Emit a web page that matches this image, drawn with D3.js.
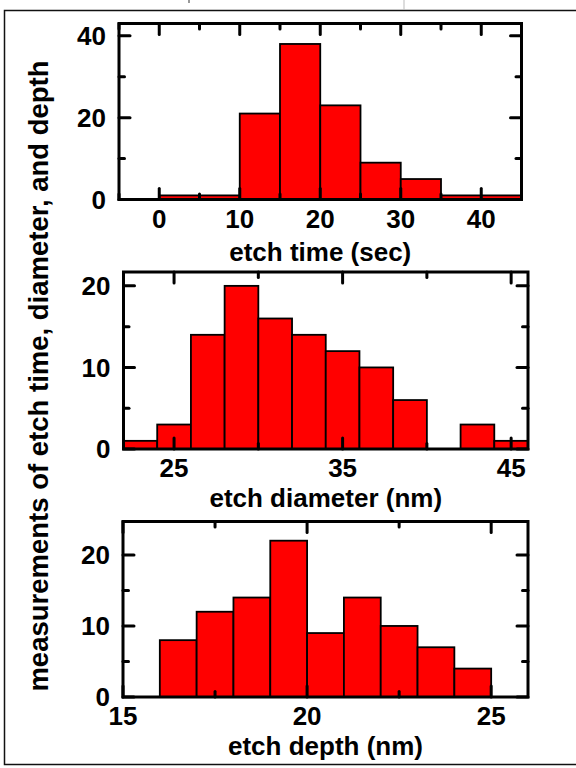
<!DOCTYPE html>
<html>
<head>
<meta charset="utf-8">
<script src="https://cdn.jsdelivr.net/npm/d3@7"></script>
<style>
  body { margin: 0; background: #fff; }
  text { font-family: "Liberation Sans", Arial, Helvetica, sans-serif; font-weight: bold; }
</style>
</head>
<body>
<div class="canvas"></div>
<script>
// histogram bins (left edges) and counts
const timeEdges = [0, 5, 10, 15, 20, 25, 30, 35, 40, 45];
const timeCounts = [1, 1, 21, 38, 23, 9, 5, 1, 1];
const timeTicks = [0, 10, 20, 30, 40];
const timeMinor = [-5, 5, 15, 25, 35, 45];
const timeYTicks = [0, 20, 40];
const timeYMinor = [10, 30];

const diamEdges = [22, 24, 26, 28, 30, 32, 34, 36, 38, 40, 42, 44, 46];
const diamCounts = [1, 3, 14, 20, 16, 14, 12, 10, 6, 0, 3, 1];
const diamTicks = [25, 35, 45];
const diamMinor = [30, 40];
const diamYTicks = [0, 10, 20];
const diamYMinor = [5, 15];

const depthEdges = [16, 17, 18, 19, 20, 21, 22, 23, 24, 25];
const depthCounts = [8, 12, 14, 22, 9, 14, 10, 7, 4];
const depthTicks = [15, 20, 25];
const depthMinor = [17.5, 22.5];
const depthYTicks = [0, 10, 20];
const depthYMinor = [5, 15];

const yTitle = 'measurements of etch time, diameter, and depth';

const dims = {width: 576, height: 768};
const font = 26;

const svg = d3.select('.canvas')
    .append('svg')
    .attr('width', dims.width)
    .attr('height', dims.height);

// outer frame
svg.append('rect')
    .attr('x', 4.5).attr('y', 10.5)
    .attr('width', 580).attr('height', 754)
    .attr('fill', 'none')
    .attr('stroke', '#111')
    .attr('stroke-width', 1.5);

// little bits of the cropped caption above the frame
svg.append('line').attr('x1', 189).attr('x2', 189).attr('y1', 0).attr('y2', 3)
    .attr('stroke', '#777').attr('stroke-width', 1.5);
svg.append('line').attr('x1', 404).attr('x2', 404).attr('y1', 0).attr('y2', 10)
    .attr('stroke', '#bbb').attr('stroke-width', 1);

const panels = [
    {edges: timeEdges, counts: timeCounts, xDom: [-5, 45], xRange: [119, 521.5],
     yDom: [0, 43], yRange: [199.5, 23.5], ticks: timeTicks, minor: timeMinor,
     yTicks: timeYTicks, yMinor: timeYMinor, title: 'etch time (sec)', titleDy: 61},
    {edges: diamEdges, counts: diamCounts, xDom: [22, 46], xRange: [123.5, 528],
     yDom: [0, 21.7], yRange: [449, 272], ticks: diamTicks, minor: diamMinor,
     yTicks: diamYTicks, yMinor: diamYMinor, title: 'etch diameter (nm)', titleDy: 58},
    {edges: depthEdges, counts: depthCounts, xDom: [15, 26], xRange: [123, 528],
     yDom: [0, 24.7], yRange: [697, 521.5], ticks: depthTicks, minor: depthMinor,
     yTicks: depthYTicks, yMinor: depthYMinor, title: 'etch depth (nm)', titleDy: 58}
];

const drawPanel = (p) => {
    const x = d3.scaleLinear().domain(p.xDom).range(p.xRange);
    const y = d3.scaleLinear().domain(p.yDom).range(p.yRange);
    const g = svg.append('g');

    const bins = p.counts.map((c, i) => ({x0: p.edges[i], x1: p.edges[i + 1], n: c}))
        .filter(d => d.n > 0);

    g.selectAll('rect.bar')
        .data(bins)
        .enter()
        .append('rect')
        .attr('class', 'bar')
        .attr('x', d => x(d.x0))
        .attr('width', d => x(d.x1) - x(d.x0))
        .attr('y', d => y(d.n))
        .attr('height', d => y(0) - y(d.n))
        .attr('fill', '#ff0000')
        .attr('stroke', '#000')
        .attr('stroke-width', 1.8);

    const [l, r] = p.xRange;
    const [b, t] = p.yRange;

    // ticks on all four sides, pointing in
    const tickLine = (x1, y1, x2, y2) => g.append('line')
        .attr('x1', x1).attr('y1', y1).attr('x2', x2).attr('y2', y2)
        .attr('stroke', '#000').attr('stroke-width', 3)
        .attr('stroke-linecap', 'round');

    const major = 11, minorLen = 5.5;
    p.ticks.forEach(v => { tickLine(x(v), b, x(v), b - major); tickLine(x(v), t, x(v), t + major); });
    p.minor.forEach(v => { tickLine(x(v), b, x(v), b - minorLen); tickLine(x(v), t, x(v), t + minorLen); });
    p.yTicks.forEach(v => { tickLine(l, y(v), l + major, y(v)); tickLine(r, y(v), r - major, y(v)); });
    p.yMinor.forEach(v => { tickLine(l, y(v), l + minorLen, y(v)); tickLine(r, y(v), r - minorLen, y(v)); });

    g.append('rect')
        .attr('x', l).attr('y', t)
        .attr('width', r - l).attr('height', b - t)
        .attr('fill', 'none')
        .attr('stroke', '#000')
        .attr('stroke-width', 3);

    g.selectAll('text.xt')
        .data(p.ticks)
        .enter()
        .append('text')
        .attr('class', 'xt')
        .attr('x', d => x(d))
        .attr('y', b + 28)
        .attr('text-anchor', 'middle')
        .attr('font-size', font)
        .text(d => d);

    g.selectAll('text.yt')
        .data(p.yTicks)
        .enter()
        .append('text')
        .attr('class', 'yt')
        .attr('x', l - 13)
        .attr('y', d => y(d))
        .attr('dy', '0.36em')
        .attr('text-anchor', 'end')
        .attr('font-size', font)
        .text(d => d);

    g.append('text')
        .attr('x', (l + r) / 2)
        .attr('y', b + p.titleDy)
        .attr('text-anchor', 'middle')
        .attr('font-size', font)
        .text(p.title);
};

panels.forEach(drawPanel);

svg.append('text')
    .attr('transform', 'translate(48, 376) rotate(-90)')
    .attr('text-anchor', 'middle')
    .attr('font-size', 27.5)
    .text(yTitle);
</script>
</body>
</html>
